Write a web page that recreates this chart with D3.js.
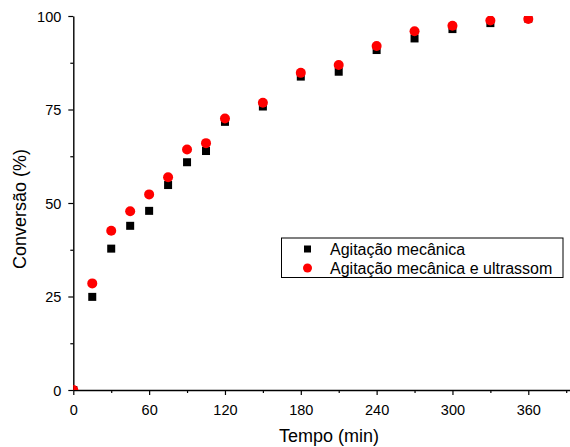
<!DOCTYPE html>
<html>
<head>
<meta charset="utf-8">
<script src="https://cdn.jsdelivr.net/npm/d3@7"></script>
<style>
    body { margin: 0; background: #fff; }
    text { font-family: "Liberation Sans", Arial, sans-serif; }
</style>
</head>
<body>
<div id="chart"></div>
<script>
// time (min)
const tempo = [0, 15, 30, 45, 60, 75, 90, 105, 120, 150, 180, 210, 240, 270, 300, 330, 360];
// conversion (%) for each series
const mecanica = [0, 24.9, 37.8, 43.9, 47.9, 54.8, 60.9, 63.9, 71.7, 75.8, 83.8, 85.1, 90.9, 94.0, 96.5, 98.1, 99.3];
const ultrassom = [0, 28.5, 42.6, 47.8, 52.3, 56.9, 64.3, 66.0, 72.6, 76.8, 84.8, 86.9, 92.0, 95.9, 97.4, 98.8, 99.2];
const seriesNames = ["Agitação mecânica", "Agitação mecânica e ultrassom"];
const xTicks = [0, 60, 120, 180, 240, 300, 360];
const yTicks = [0, 25, 50, 75, 100];

const W = 570, H = 447;
const margin = {l: 73.3, r: 0, t: 16, b: 57};
const width = W - margin.l - margin.r;
const height = H - margin.t - margin.b;

let outerSvg = d3.select("#chart")
    .append("svg")
    .attr("width", W)
    .attr("height", H);
let svg = outerSvg.append("g")
    .attr("transform", `translate(${margin.l}, ${margin.t})`);

let x = d3.scaleLinear().domain([0, 393]).range([0, width]);
let y = d3.scaleLinear().domain([0, 100]).range([height, 0]);

svg.append("clipPath").attr("id", "clip")
    .append("rect").attr("width", width).attr("height", height);

//minor ticks
let xMinor = d3.range(30, 393, 60);
let yMinor = d3.range(12.5, 100, 25);

let xAxis = svg.append("g")
    .attr("transform", `translate(0,${height})`)
    .call(d3.axisBottom(x).tickValues(xTicks).tickSize(5).tickPadding(10).tickSizeOuter(0));
svg.append("g")
    .attr("transform", `translate(0,${height})`)
    .call(d3.axisBottom(x).tickValues(xMinor).tickSize(3).tickFormat("").tickSizeOuter(0))
    .select(".domain").remove();

let yAxis = svg.append("g")
    .call(d3.axisLeft(y).tickValues(yTicks).tickSize(5).tickPadding(7).tickSizeOuter(0));
svg.append("g")
    .call(d3.axisLeft(y).tickValues(yMinor).tickSize(3).tickFormat("").tickSizeOuter(0))
    .select(".domain").remove();

svg.selectAll(".domain").attr("stroke-width", 1.4);
svg.selectAll(".tick line").attr("stroke-width", 1.2);
svg.selectAll(".tick text")
    .attr("font-family", '"Liberation Sans", Arial, sans-serif')
    .attr("font-size", 14.5)
    .attr("fill", "#000");
yAxis.selectAll(".tick text").attr("dy", "0.36em");

//axis titles
svg.append("text")
    .attr("x", 329 - margin.l)
    .attr("y", 442 - margin.t)
    .attr("text-anchor", "middle")
    .attr("font-size", 18)
    .text("Tempo (min)");
svg.append("text")
    .attr("transform", `translate(${25.5 - margin.l}, ${209 - margin.t}) rotate(-90)`)
    .attr("text-anchor", "middle")
    .attr("font-size", 18)
    .text("Conversão (%)");

//points
let plot = svg.append("g").attr("clip-path", "url(#clip)");
const sq = 8;
plot.selectAll("rect.m")
    .data(tempo.map((t, i) => [t, mecanica[i]]))
    .join("rect")
    .attr("class", "m")
    .attr("x", d => x(d[0]) - sq / 2)
    .attr("y", d => y(d[1]) - sq / 2)
    .attr("width", sq)
    .attr("height", sq)
    .attr("fill", "#000");
plot.selectAll("circle.u")
    .data(tempo.map((t, i) => [t, ultrassom[i]]))
    .join("circle")
    .attr("class", "u")
    .attr("cx", d => x(d[0]))
    .attr("cy", d => y(d[1]))
    .attr("r", 5)
    .attr("fill", "#ff0000");

//legend
let legend = outerSvg.append("g").attr("transform", "translate(281.5, 238)");
legend.append("rect")
    .attr("width", 281.5)
    .attr("height", 39.5)
    .attr("fill", "#fff")
    .attr("stroke", "#000")
    .attr("stroke-width", 1);
legend.append("rect")
    .attr("x", 26 - 3.5).attr("y", 11 - 3.5)
    .attr("width", 7).attr("height", 7)
    .attr("fill", "#000");
legend.append("circle")
    .attr("cx", 26).attr("cy", 30)
    .attr("r", 4.5)
    .attr("fill", "#ff0000");
legend.selectAll("text.lg")
    .data(seriesNames)
    .join("text")
    .attr("class", "lg")
    .attr("x", 48.5)
    .attr("y", (d, i) => 11 + i * 19)
    .attr("dy", "0.36em")
    .attr("font-size", 16)
    .text(d => d);
</script>
</body>
</html>
